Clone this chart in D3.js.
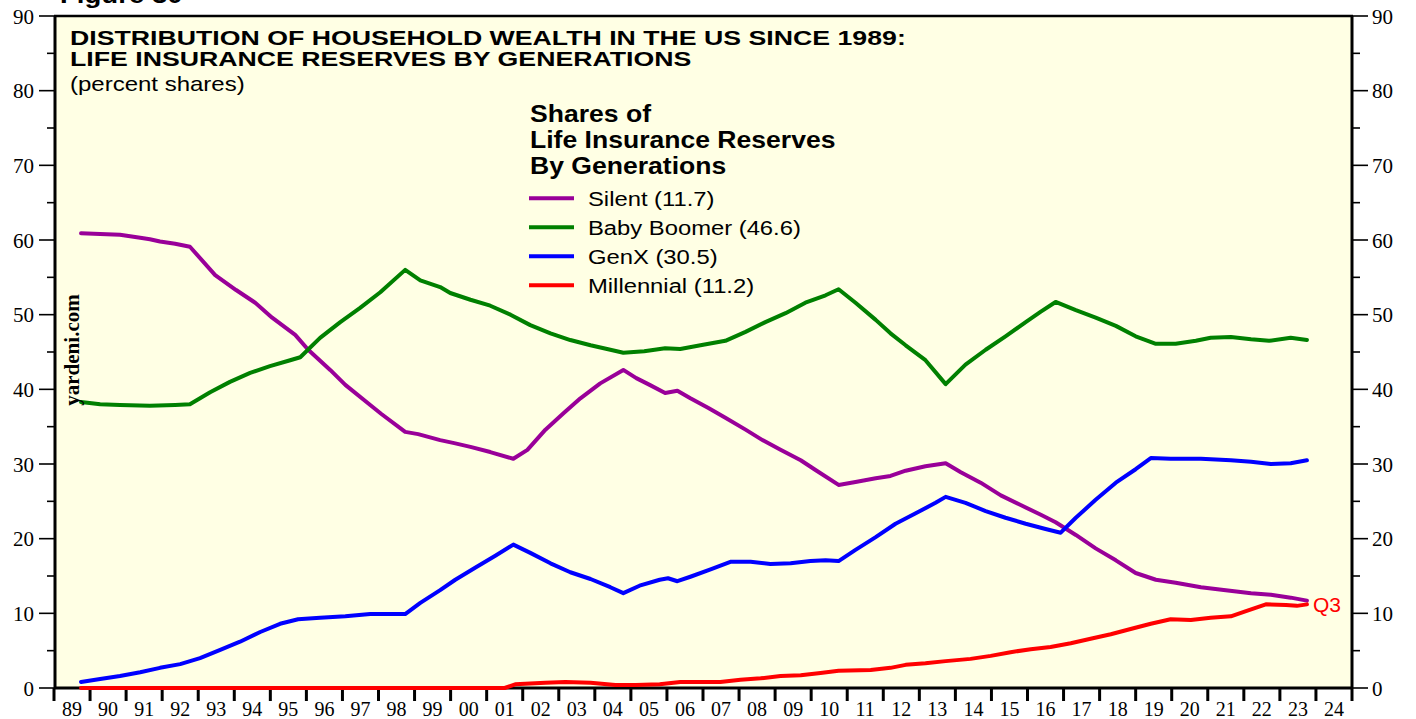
<!DOCTYPE html>
<html>
<head>
<meta charset="utf-8">
<script src="https://cdn.jsdelivr.net/npm/d3@7"></script>
<style>
  html, body { margin: 0; padding: 0; background: #ffffff; }
  svg { display: block; }
</style>
</head>
<body>
<svg id="chart" width="1416" height="719"></svg>
<script>
// Year tick labels (one per year interval)
const yearLabels = ["89","90","91","92","93","94","95","96","97","98","99","00","01","02","03","04","05","06","07","08","09","10","11","12","13","14","15","16","17","18","19","20","21","22","23","24"];
const yTicks = [0, 10, 20, 30, 40, 50, 60, 70, 80, 90];

// Shares of life insurance reserves, percent: [year, share]
const silent = [
  [1989.75,60.9],[1990.28,60.8],[1990.83,60.7],[1991.39,60.3],[1991.66,60.1],[1991.94,59.8],
  [1992.36,59.5],[1992.77,59.1],[1993.47,55.3],[1994.05,53.3],[1994.58,51.6],[1995.05,49.6],
  [1995.69,47.3],[1996.05,45.3],[1996.66,42.6],[1997.08,40.6],[1997.77,37.9],[1998.08,36.7],
  [1998.74,34.3],[1999.1,34.0],[1999.71,33.2],[2000.1,32.8],[2000.55,32.3],[2001.1,31.6],
  [2001.74,30.7],[2002.13,31.9],[2002.63,34.6],[2003.13,36.8],[2003.6,38.8],[2004.15,40.8],
  [2004.79,42.6],[2005.15,41.5],[2005.52,40.6],[2005.95,39.5],[2006.29,39.8],[2006.65,38.8],
  [2007.15,37.5],[2007.62,36.2],[2008.18,34.6],[2008.65,33.2],[2009.15,31.9],[2009.71,30.5],
  [2010.12,29.2],[2010.76,27.2],[2011.23,27.6],[2011.79,28.1],[2012.2,28.4],[2012.62,29.1],
  [2013.17,29.7],[2013.73,30.1],[2014.15,28.9],[2014.7,27.5],[2015.26,25.8],[2015.81,24.5],
  [2016.37,23.2],[2016.78,22.2],[2017.34,20.5],[2017.89,18.7],[2018.45,17.1],[2019.0,15.4],
  [2019.56,14.5],[2020.11,14.1],[2020.81,13.5],[2021.5,13.1],[2022.2,12.7],[2022.75,12.5],
  [2023.3,12.1],[2023.75,11.7]
];
const boomer = [
  [1989.75,38.3],[1990.28,38.0],[1990.83,37.9],[1991.66,37.8],[1992.36,37.9],[1992.77,38.0],
  [1993.33,39.6],[1993.88,41.0],[1994.44,42.2],[1994.99,43.1],[1995.55,43.9],[1995.83,44.3],
  [1996.38,46.9],[1996.94,49.0],[1997.49,50.9],[1998.05,53.0],[1998.74,56.0],[1999.16,54.6],
  [1999.71,53.7],[1999.99,52.9],[2000.55,52.0],[2001.1,51.2],[2001.66,50.0],[2002.21,48.6],
  [2002.77,47.5],[2003.32,46.6],[2003.88,45.9],[2004.43,45.3],[2004.79,44.9],[2005.37,45.1],
  [2005.95,45.5],[2006.37,45.4],[2006.93,45.9],[2007.62,46.5],[2008.18,47.7],[2008.73,49.0],
  [2009.29,50.2],[2009.84,51.6],[2010.4,52.6],[2010.76,53.4],[2011.23,51.6],[2011.79,49.3],
  [2012.2,47.5],[2012.62,45.9],[2013.17,43.9],[2013.73,40.7],[2014.28,43.3],[2014.84,45.3],
  [2015.39,47.1],[2015.95,49.0],[2016.37,50.4],[2016.78,51.7],[2017.34,50.6],[2017.89,49.6],
  [2018.45,48.5],[2019.0,47.1],[2019.56,46.1],[2020.11,46.1],[2020.67,46.5],[2021.08,46.9],
  [2021.64,47.0],[2022.2,46.7],[2022.7,46.5],[2023.3,46.9],[2023.75,46.6]
];
const genX = [
  [1989.75,0.8],[1990.28,1.2],[1990.83,1.6],[1991.39,2.1],[1991.94,2.7],[1992.5,3.2],
  [1993.05,4.0],[1993.61,5.1],[1994.16,6.2],[1994.72,7.5],[1995.27,8.6],[1995.77,9.2],
  [1996.38,9.4],[1997.08,9.6],[1997.77,9.9],[1998.74,9.9],[1999.16,11.4],[1999.71,13.1],
  [2000.13,14.5],[2000.68,16.1],[2001.24,17.7],[2001.74,19.2],[2002.21,18.1],[2002.77,16.7],
  [2003.32,15.5],[2003.88,14.6],[2004.43,13.5],[2004.79,12.7],[2005.24,13.7],[2005.8,14.5],
  [2006.03,14.7],[2006.29,14.3],[2006.65,14.9],[2007.21,15.9],[2007.76,16.9],[2008.32,16.9],
  [2008.87,16.6],[2009.43,16.7],[2009.98,17.0],[2010.4,17.1],[2010.76,17.0],[2011.23,18.5],
  [2011.79,20.2],[2012.34,22.0],[2012.9,23.4],[2013.45,24.8],[2013.73,25.6],[2014.28,24.8],
  [2014.84,23.7],[2015.39,22.8],[2015.95,22.0],[2016.5,21.3],[2016.92,20.8],[2017.34,22.8],
  [2017.89,25.2],[2018.45,27.5],[2019.0,29.3],[2019.42,30.8],[2019.97,30.7],[2020.81,30.7],
  [2021.64,30.5],[2022.2,30.3],[2022.75,30.0],[2023.3,30.1],[2023.75,30.5]
];
const millennial = [
  [1989.75,0.0],[2001.5,0.0],[2001.79,0.5],[2002.63,0.7],[2003.18,0.8],[2003.88,0.7],
  [2004.57,0.4],[2005.13,0.4],[2005.8,0.5],[2006.37,0.8],[2007.48,0.8],[2008.04,1.1],
  [2008.6,1.3],[2009.15,1.6],[2009.71,1.7],[2010.26,2.0],[2010.76,2.3],[2011.65,2.4],
  [2012.2,2.7],[2012.62,3.1],[2013.17,3.3],[2013.73,3.6],[2014.42,3.9],[2014.98,4.3],
  [2015.53,4.8],[2016.09,5.2],[2016.64,5.5],[2017.2,6.0],[2017.75,6.6],[2018.31,7.2],
  [2018.86,7.9],[2019.42,8.6],[2019.97,9.2],[2020.53,9.1],[2021.08,9.4],[2021.64,9.6],
  [2022.06,10.3],[2022.61,11.2],[2023.17,11.1],[2023.47,11.0],[2023.75,11.2]
];

const seriesNames = ["Silent", "Baby Boomer", "GenX", "Millennial"];
const seriesColors = ["#990099", "#008000", "#0000ff", "#ff0000"];
const seriesData = [silent, boomer, genX, millennial];

const svg = d3.select("#chart");
const sans = "'Liberation Sans', Arial, sans-serif";
const serif = "'Liberation Serif', 'Times New Roman', serif";

// Text placed at (x, y) and widened horizontally by sx
function wideText(parent, x, y, sx, str, size, bold) {
  return parent.append("text")
    .attr("transform", `translate(${x},${y}) scale(${sx},1)`)
    .attr("font-family", sans)
    .attr("font-weight", bold ? "bold" : "normal")
    .attr("font-size", size)
    .text(str);
}

const plotL = 55, plotR = 1352, plotT = 16, plotB = 688;
const x = d3.scaleLinear().domain([1989, 2025]).range([plotL - 1, plotR]);
const y = d3.scaleLinear().domain([0, 90]).range([plotB, plotT]);

// Plot background
svg.append("rect").attr("x", plotL).attr("y", plotT)
  .attr("width", plotR - plotL).attr("height", plotB - plotT)
  .attr("fill", "#ffffe4");

// Left and right value axes (major ticks every 10, minor every 5)
function valueAxis(isLeft) {
  const g = svg.append("g");
  const x0 = isLeft ? plotL : plotR;
  const dir = isLeft ? -1 : 1;
  d3.range(0, 90.1, 5).forEach(v => {
    const major = v % 10 === 0;
    g.append("line")
      .attr("x1", x0).attr("x2", x0 + dir * (major ? 16 : 8))
      .attr("y1", y(v)).attr("y2", y(v))
      .attr("stroke", "#000").attr("stroke-width", 1.6);
  });
  g.selectAll("text").data(yTicks).join("text")
    .attr("x", isLeft ? x0 - 21 : x0 + 20)
    .attr("y", d => y(d) + 7.5)
    .attr("text-anchor", isLeft ? "end" : "start")
    .attr("font-family", serif).attr("font-size", 21)
    .text(d => d);
}
valueAxis(true);
valueAxis(false);

// Frame
svg.append("line").attr("x1", plotL - 1).attr("x2", plotR + 1).attr("y1", plotT).attr("y2", plotT)
  .attr("stroke", "#000").attr("stroke-width", 2.5);
svg.append("line").attr("x1", plotL).attr("x2", plotL).attr("y1", plotT).attr("y2", plotB)
  .attr("stroke", "#000").attr("stroke-width", 3);
svg.append("line").attr("x1", plotR).attr("x2", plotR).attr("y1", plotT).attr("y2", plotB)
  .attr("stroke", "#000").attr("stroke-width", 3);
svg.append("line").attr("x1", plotL - 1).attr("x2", plotR + 1).attr("y1", plotB).attr("y2", plotB)
  .attr("stroke", "#000").attr("stroke-width", 3);

// Year axis: ticks at year boundaries, labels centred in each year
const yearStarts = d3.range(1989, 2026);
svg.append("g").selectAll("line").data(yearStarts).join("line")
  .attr("x1", d => x(d)).attr("x2", d => x(d))
  .attr("y1", plotB).attr("y2", plotB + 13)
  .attr("stroke", "#000").attr("stroke-width", 3);
svg.append("g").selectAll("text").data(yearLabels).join("text")
  .attr("x", (d, i) => x(1989 + i + 0.5))
  .attr("y", 716)
  .attr("text-anchor", "middle")
  .attr("font-family", serif).attr("font-size", 20)
  .text(d => d);

// Series lines
const line = d3.line().x(d => x(d[0])).y(d => y(d[1]));
seriesData.forEach((s, i) => {
  svg.append("path").datum(s)
    .attr("d", line)
    .attr("fill", "none")
    .attr("stroke", seriesColors[i])
    .attr("stroke-width", 4)
    .attr("stroke-linejoin", "round")
    .attr("stroke-linecap", "round");
});

// Latest quarter marker
const lastM = millennial[millennial.length - 1];
svg.append("text")
  .attr("x", x(lastM[0]) + 6).attr("y", y(lastM[1]) + 8)
  .attr("font-family", sans).attr("font-size", 21)
  .attr("fill", "#ff0000").text("Q3");

// Figure number (partly above the page edge)
wideText(svg, 60, 3, 1.2, "Figure 30", 23, true);

// Title
wideText(svg, 70, 45, 1.335, "DISTRIBUTION OF HOUSEHOLD WEALTH IN THE US SINCE 1989:", 20, true);
wideText(svg, 70, 66, 1.335, "LIFE INSURANCE RESERVES BY GENERATIONS", 20, true);
wideText(svg, 70, 91, 1.2, "(percent shares)", 20, false);

// Legend
const legendTitle = ["Shares of", "Life Insurance Reserves", "By Generations"];
legendTitle.forEach((t, i) => wideText(svg, 530, 121.5 + i * 26.3, 1.155, t, 23, true));
const lastValues = seriesData.map(s => s[s.length - 1][1]);
seriesNames.forEach((name, i) => {
  const ly = 198.3 + i * 29;
  svg.append("line").attr("x1", 529).attr("x2", 574).attr("y1", ly).attr("y2", ly)
    .attr("stroke", seriesColors[i]).attr("stroke-width", 4);
  wideText(svg, 588, ly + 8, 1.19, `${name} (${d3.format(".1f")(lastValues[i])})`, 20, false);
});

// Source watermark
svg.append("text")
  .attr("transform", "translate(79,350) rotate(-90)")
  .attr("text-anchor", "middle")
  .attr("font-family", serif).attr("font-weight", "bold").attr("font-size", 21)
  .text("yardeni.com");
</script>
</body>
</html>
